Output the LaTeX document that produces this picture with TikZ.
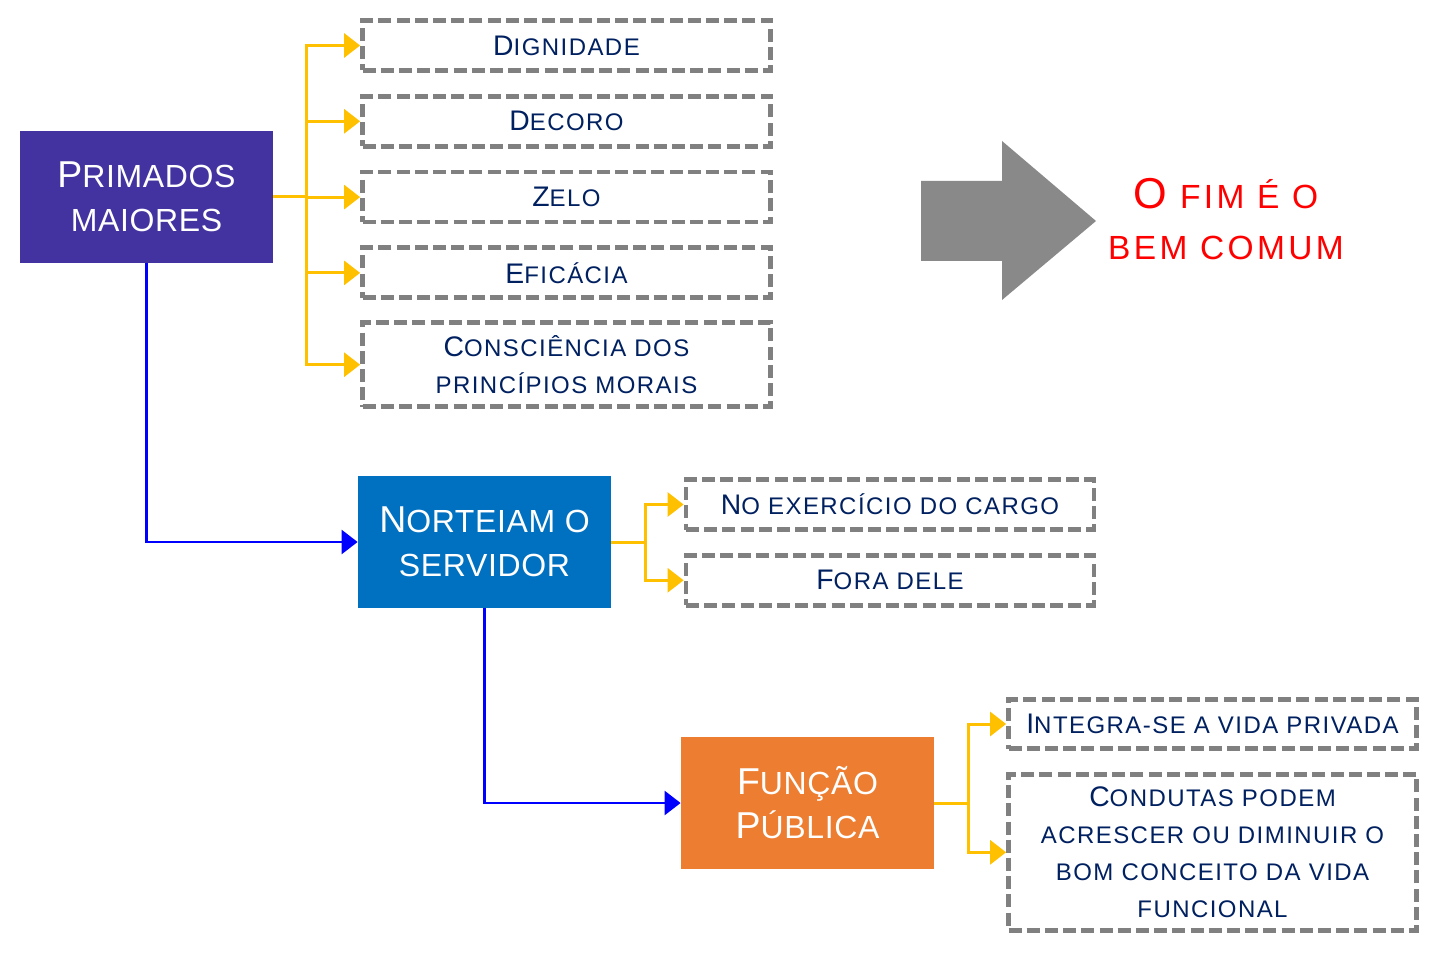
\documentclass[tikz,border=0pt]{standalone}
\usepackage{fontspec}
\setmainfont{Liberation Sans}
\usepackage{graphicx}
\usetikzlibrary{positioning, arrows.meta}
\definecolor{indigo}{RGB}{66,51,160}
\definecolor{azure}{RGB}{0,112,192}
\definecolor{carrot}{RGB}{237,125,49}
\definecolor{navy}{RGB}{0,32,96}
\definecolor{gold}{RGB}{255,192,0}
\definecolor{dashgray}{RGB}{128,128,128}
\definecolor{arrowgray}{RGB}{137,137,137}
\newcommand\ini[2][1.18]{\scalebox{#1}{#2}}

\begin{document}
\begin{tikzpicture}[
  x=0.5pt, y=-0.5pt,
  main box/.style={
    text=white,
    inner sep=0pt,
    align=center,
    minimum width=126.5pt,
    minimum height=66pt,
    font=\fontsize{16}{22}\selectfont\addfontfeature{LetterSpace=2}
  },
  list box/.style={
    draw=dashgray,
    line width=2.4pt,
    dash pattern=on 6.5pt off 2.6pt,
    text=navy,
    inner sep=0pt,
    align=center,
    minimum width=204pt,
    minimum height=25pt,
    font=\fontsize{12}{18.5}\selectfont\addfontfeature{LetterSpace=6}
  },
  fim text/.style={
    text=red,
    align=center,
    inner sep=0pt,
    font=\fontsize{16.75}{25.5}\selectfont\addfontfeature{LetterSpace=10}
  },
  pick arrow/.style={
    -{Triangle[length=8pt,width=12pt]},
    draw=gold,
    line width=1.5pt
  },
  link arrow/.style={
    -{Triangle[length=8pt,width=12pt]},
    draw=blue,
    line width=1.3pt
  }
]
\useasboundingbox (0,0) rectangle (1438,956);

\node(prim)[main box, fill=indigo] at (146.5,197) {\ini[1.17]{P}RIMADOS\\MAIORES};
\node(nort)[main box, fill=azure] at (484.5,542) {\ini[1.17]{N}ORTEIAM O\\SERVIDOR};
\node(func)[main box, fill=carrot] at (807.5,803) {\ini[1.17]{F}UNÇÃO\\\ini[1.17]{P}ÚBLICA};

\node(dign)[list box] at (566.5,45.5) {\ini{D}IGNIDADE};
\node(deco)[list box, below=10.5pt of dign] {\ini{D}ECORO};
\node(zelo)[list box, below=10.5pt of deco] {\ini{Z}ELO};
\node(efic)[list box, below=10.5pt of zelo] {\ini{E}FICÁCIA};
\node(cons)[list box, below=10pt of efic, minimum height=42pt] {\ini{C}ONSCIÊNCIA DOS\\PRINCÍPIOS MORAIS};

\node(exer)[list box] at (890,504.5) {\ini{N}O EXERCÍCIO DO CARGO};
\node(fora)[list box, below=10.5pt of exer] {\ini{F}ORA DELE};

\node(integ)[list box, minimum height=24.5pt] at (1212.5,724) {\ini{I}NTEGRA-SE A VIDA PRIVADA};
\node(cond)[list box, below=10.5pt of integ, minimum height=78pt] {\ini{C}ONDUTAS PODEM\\ACRESCER OU DIMINUIR O\\BOM CONCEITO DA VIDA\\FUNCIONAL};

% seta cinza e conclusao
\fill[arrowgray] (921,181) -- (1002,181) -- (1002,141) -- (1096,221) -- (1002,300) -- (1002,261) -- (921,261) -- cycle;
\node(fim)[fim text] at (1226,219) {\ini[1.29]{O} FIM É O\\BEM COMUM};

\draw[pick arrow] (prim.east) -- ++(33,0) |- (dign.west);
\draw[pick arrow] (prim.east) -- ++(33,0) |- (deco.west);
\draw[pick arrow] (prim.east) -- ++(33,0) |- (zelo.west);
\draw[pick arrow] (prim.east) -- ++(33,0) |- (efic.west);
\draw[pick arrow] (prim.east) -- ++(33,0) |- (cons.west);

\draw[pick arrow] (nort.east) -- ++(34,0) |- (exer.west);
\draw[pick arrow] (nort.east) -- ++(34,0) |- (fora.west);

\draw[pick arrow] (func.east) -- ++(34,0) |- (integ.west);
\draw[pick arrow] (func.east) -- ++(34,0) |- (cond.west);

\draw[link arrow] (prim.south) |- (nort.west);
\draw[link arrow] (nort.south) |- (func.west);

\end{tikzpicture}
\end{document}
